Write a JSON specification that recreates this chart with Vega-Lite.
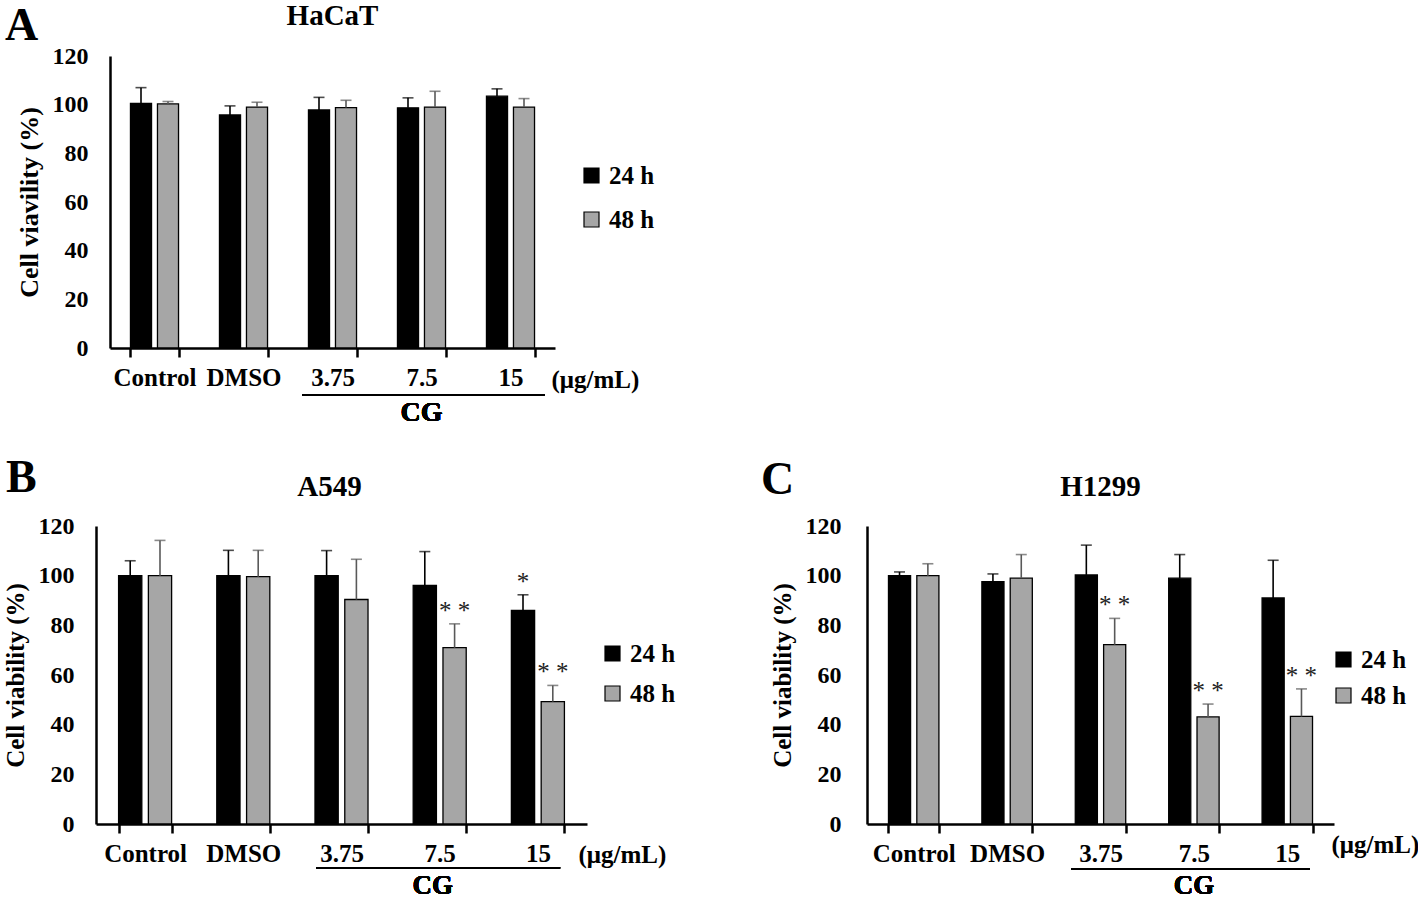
{
  "$schema": "https://vega.github.io/schema/vega-lite/v6.json",
  "background": "white",
  "padding": {"left": 3, "top": 2, "right": 0, "bottom": 0},
  "config": {
    "font": "Liberation Serif",
    "view": {"stroke": null},
    "axis": {"labelFont": "Liberation Serif", "labelFontWeight": "bold", "labelFontSize": 25, "labelColor": "#000", "titleFont": "Liberation Serif", "titleFontWeight": "bold", "titleFontSize": 25, "titleColor": "#000", "domainColor": "#000", "domainWidth": 2.5, "tickColor": "#000", "tickWidth": 2.5, "grid": false},
    "axisY": {"ticks": false, "labelPadding": 22, "titlePadding": 10, "labelFontSize": 24, "titleFontSize": 26},
    "axisX": {"labelAngle": 0, "tickBand": "extent", "tickSize": 9, "labelPadding": 8, "titleAngle": 0, "titleAlign": "left", "titleBaseline": "middle"},
    "legend": {"orient": "none", "title": null, "symbolType": "square", "symbolSize": 225, "symbolStrokeColor": "#000", "symbolStrokeWidth": 1.2, "labelFont": "Liberation Serif", "labelFontSize": 25, "labelFontWeight": "bold", "labelColor": "#000", "labelOffset": 5, "padding": 0, "rowPadding": 18},
    "title": {"font": "Liberation Serif", "fontWeight": "bold", "fontSize": 29, "color": "#000"}
  },
  "datasets": {
    "A": [
      {"c": "Control", "t": "24 h", "v": 100.5, "hi": 107, "s": ""},
      {"c": "Control", "t": "48 h", "v": 100.3, "hi": 101.3, "s": ""},
      {"c": "DMSO", "t": "24 h", "v": 95.8, "hi": 99.5, "s": ""},
      {"c": "DMSO", "t": "48 h", "v": 99, "hi": 101, "s": ""},
      {"c": "3.75", "t": "24 h", "v": 97.8, "hi": 103, "s": ""},
      {"c": "3.75", "t": "48 h", "v": 98.8, "hi": 101.8, "s": ""},
      {"c": "7.5", "t": "24 h", "v": 98.7, "hi": 102.8, "s": ""},
      {"c": "7.5", "t": "48 h", "v": 99, "hi": 105.5, "s": ""},
      {"c": "15", "t": "24 h", "v": 103.5, "hi": 106.5, "s": ""},
      {"c": "15", "t": "48 h", "v": 99, "hi": 102.5, "s": ""}
    ],
    "B": [
      {"c": "Control", "t": "24 h", "v": 100, "hi": 106, "s": ""},
      {"c": "Control", "t": "48 h", "v": 100, "hi": 114.2, "s": ""},
      {"c": "DMSO", "t": "24 h", "v": 100, "hi": 110.2, "s": ""},
      {"c": "DMSO", "t": "48 h", "v": 99.6, "hi": 110.2, "s": ""},
      {"c": "3.75", "t": "24 h", "v": 100, "hi": 110.1, "s": ""},
      {"c": "3.75", "t": "48 h", "v": 90.4, "hi": 106.6, "s": ""},
      {"c": "7.5", "t": "24 h", "v": 96.1, "hi": 109.7, "s": ""},
      {"c": "7.5", "t": "48 h", "v": 71, "hi": 80.6, "s": "* *"},
      {"c": "15", "t": "24 h", "v": 86, "hi": 92.3, "s": "*"},
      {"c": "15", "t": "48 h", "v": 49.3, "hi": 55.8, "s": "* *"}
    ],
    "C": [
      {"c": "Control", "t": "24 h", "v": 100, "hi": 101.5, "s": ""},
      {"c": "Control", "t": "48 h", "v": 100, "hi": 104.8, "s": ""},
      {"c": "DMSO", "t": "24 h", "v": 97.6, "hi": 100.7, "s": ""},
      {"c": "DMSO", "t": "48 h", "v": 99, "hi": 108.5, "s": ""},
      {"c": "3.75", "t": "24 h", "v": 100.3, "hi": 112.3, "s": ""},
      {"c": "3.75", "t": "48 h", "v": 72.2, "hi": 82.8, "s": "* *"},
      {"c": "7.5", "t": "24 h", "v": 99, "hi": 108.5, "s": ""},
      {"c": "7.5", "t": "48 h", "v": 43.1, "hi": 48.3, "s": "* *"},
      {"c": "15", "t": "24 h", "v": 91, "hi": 106.2, "s": ""},
      {"c": "15", "t": "48 h", "v": 43.3, "hi": 54.4, "s": "* *"}
    ]
  },
  "columns": 1,
  "spacing": 28,
  "resolve": {"scale": {"color": "independent", "xOffset": "independent"}},
  "concat": [
    {
      "title": {"text": "A", "anchor": "start", "frame": "bounds", "fontSize": 46, "offset": -48, "dx": -11},
      "vconcat": [
        {
          "width": 459, "height": 292,
          "data": {"name": "A"},
          "title": {"text": "HaCaT", "offset": 13, "dx": 7},
          "encoding": {
            "x": {"field": "c", "type": "nominal", "sort": ["Control", "DMSO", "3.75", "7.5", "15"], "scale": {"paddingInner": 0.46, "paddingOuter": 0.23, "range": [14, 459]}, "axis": {"title": "(μg/mL)", "titleX": 455, "titleY": 31}}
          },
          "layer": [
            {"mark": {"type": "bar", "stroke": "#000", "strokeWidth": 1.3},
             "encoding": {
               "xOffset": {"field": "t", "type": "nominal", "scale": {"paddingInner": 0.22}},
               "y": {"field": "v", "type": "quantitative", "scale": {"domain": [0, 120]}, "axis": {"title": "Cell viavility (%)", "offset": -14, "values": [0, 20, 40, 60, 80, 100, 120]}},
               "color": {"field": "t", "type": "nominal", "scale": {"domain": ["24 h", "48 h"], "range": ["#000000", "#a6a6a6"]}, "legend": {"legendX": 483, "legendY": 107, "rowPadding": 18}}
             }},
            {"mark": {"type": "rule", "strokeWidth": 1.6},
             "encoding": {
               "xOffset": {"field": "t", "type": "nominal"},
               "y": {"field": "v", "type": "quantitative"}, "y2": {"field": "hi"},
               "stroke": {"field": "t", "type": "nominal", "scale": {"domain": ["24 h", "48 h"], "range": ["#000000", "#595959"]}, "legend": null}
             }},
            {"mark": {"type": "tick", "thickness": 1.6, "size": 11},
             "encoding": {
               "xOffset": {"field": "t", "type": "nominal"},
               "y": {"field": "hi", "type": "quantitative"},
               "fill": {"field": "t", "type": "nominal", "scale": {"domain": ["24 h", "48 h"], "range": ["#000000", "#595959"]}, "legend": null}
             }},
            {"mark": {"type": "rule", "color": "#000", "strokeWidth": 1.3},
             "encoding": {"x": {"datum": "3.75", "bandPosition": -0.135}, "x2": {"datum": "15", "bandPosition": 1.21}, "y": {"datum": -19.3}}},
            {"mark": {"type": "text", "fontSize": 28, "fontWeight": "bold", "baseline": "middle", "align": "center", "color": "#000"},
             "encoding": {"x": {"datum": "7.5"}, "y": {"datum": -26.7}, "text": {"value": "CG"}}}
          ]
        }
      ]
    },
    {
      "hconcat": [
        {
          "title": {"text": "B", "anchor": "start", "frame": "bounds", "fontSize": 46, "offset": -29, "dx": 3},
          "vconcat": [
            {
              "width": 491, "height": 298,
              "data": {"name": "B"},
              "title": {"text": "A549", "offset": 12, "dx": -12},
              "encoding": {
                "x": {"field": "c", "type": "nominal", "sort": ["Control", "DMSO", "3.75", "7.5", "15"], "scale": {"paddingInner": 0.46, "paddingOuter": 0.23}, "axis": {"title": "(μg/mL)", "titleX": 482, "titleY": 30}}
              },
              "layer": [
                {"mark": {"type": "bar", "stroke": "#000", "strokeWidth": 1.3},
                 "encoding": {
                   "xOffset": {"field": "t", "type": "nominal", "scale": {"paddingInner": 0.22}},
                   "y": {"field": "v", "type": "quantitative", "scale": {"domain": [0, 120]}, "axis": {"title": "Cell viability (%)", "titleFontSize": 25, "values": [0, 20, 40, 60, 80, 100, 120]}},
                   "color": {"field": "t", "type": "nominal", "scale": {"domain": ["24 h", "48 h"], "range": ["#000000", "#a6a6a6"]}, "legend": {"legendX": 504, "legendY": 115, "rowPadding": 14}}
                 }},
                {"mark": {"type": "rule", "strokeWidth": 1.6},
                 "encoding": {
                   "xOffset": {"field": "t", "type": "nominal"},
                   "y": {"field": "v", "type": "quantitative"}, "y2": {"field": "hi"},
                   "stroke": {"field": "t", "type": "nominal", "scale": {"domain": ["24 h", "48 h"], "range": ["#000000", "#595959"]}, "legend": null}
                 }},
                {"mark": {"type": "tick", "thickness": 1.6, "size": 11},
                 "encoding": {
                   "xOffset": {"field": "t", "type": "nominal"},
                   "y": {"field": "hi", "type": "quantitative"},
                   "fill": {"field": "t", "type": "nominal", "scale": {"domain": ["24 h", "48 h"], "range": ["#000000", "#595959"]}, "legend": null}
                 }},
                {"mark": {"type": "text", "font": "Liberation Serif", "fontSize": 25, "baseline": "alphabetic", "align": "center", "dy": -5, "color": "#222"},
                 "encoding": {"xOffset": {"field": "t", "type": "nominal"}, "y": {"field": "hi", "type": "quantitative"}, "text": {"field": "s"}}},
                {"mark": {"type": "rule", "color": "#000", "strokeWidth": 1.3},
                 "encoding": {"x": {"datum": "3.75", "bandPosition": 0.02}, "x2": {"datum": "15", "bandPosition": 0.92}, "y": {"datum": -17.7}}},
                {"mark": {"type": "text", "fontSize": 27, "fontWeight": "bold", "baseline": "middle", "align": "center", "color": "#000", "dx": -7},
                 "encoding": {"x": {"datum": "7.5"}, "y": {"datum": -25}, "text": {"value": "CG"}}}
              ]
            }
          ]
        },
        {
          "title": {"text": "C", "anchor": "start", "frame": "bounds", "fontSize": 46, "offset": -31, "dx": -9},
          "vconcat": [
            {
              "width": 467, "height": 298,
              "data": {"name": "C"},
              "title": {"text": "H1299", "offset": 12},
              "encoding": {
                "x": {"field": "c", "type": "nominal", "sort": ["Control", "DMSO", "3.75", "7.5", "15"], "scale": {"paddingInner": 0.46, "paddingOuter": 0.23}, "axis": {"title": "(μg/mL)", "titleX": 464, "titleY": 20}}
              },
              "layer": [
                {"mark": {"type": "bar", "stroke": "#000", "strokeWidth": 1.3},
                 "encoding": {
                   "xOffset": {"field": "t", "type": "nominal", "scale": {"paddingInner": 0.22}},
                   "y": {"field": "v", "type": "quantitative", "scale": {"domain": [0, 120]}, "axis": {"title": "Cell viability (%)", "titleFontSize": 25, "labelPadding": 26, "values": [0, 20, 40, 60, 80, 100, 120]}},
                   "color": {"field": "t", "type": "nominal", "scale": {"domain": ["24 h", "48 h"], "range": ["#000000", "#a6a6a6"]}, "legend": {"legendX": 464, "legendY": 121, "rowPadding": 10}}
                 }},
                {"mark": {"type": "rule", "strokeWidth": 1.6},
                 "encoding": {
                   "xOffset": {"field": "t", "type": "nominal"},
                   "y": {"field": "v", "type": "quantitative"}, "y2": {"field": "hi"},
                   "stroke": {"field": "t", "type": "nominal", "scale": {"domain": ["24 h", "48 h"], "range": ["#000000", "#595959"]}, "legend": null}
                 }},
                {"mark": {"type": "tick", "thickness": 1.6, "size": 11},
                 "encoding": {
                   "xOffset": {"field": "t", "type": "nominal"},
                   "y": {"field": "hi", "type": "quantitative"},
                   "fill": {"field": "t", "type": "nominal", "scale": {"domain": ["24 h", "48 h"], "range": ["#000000", "#595959"]}, "legend": null}
                 }},
                {"mark": {"type": "text", "font": "Liberation Serif", "fontSize": 25, "baseline": "alphabetic", "align": "center", "dy": -5, "color": "#222"},
                 "encoding": {"xOffset": {"field": "t", "type": "nominal"}, "y": {"field": "hi", "type": "quantitative"}, "text": {"field": "s"}}},
                {"mark": {"type": "rule", "color": "#000", "strokeWidth": 1.3},
                 "encoding": {"x": {"datum": "3.75", "bandPosition": -0.085}, "x2": {"datum": "15", "bandPosition": 0.95}, "y": {"datum": -18.1}}},
                {"mark": {"type": "text", "fontSize": 27, "fontWeight": "bold", "baseline": "middle", "align": "center", "color": "#000"},
                 "encoding": {"x": {"datum": "7.5"}, "y": {"datum": -25}, "text": {"value": "CG"}}}
              ]
            }
          ]
        }
      ],
      "spacing": 85,
      "resolve": {"scale": {"color": "independent", "xOffset": "independent"}}
    }
  ]
}
